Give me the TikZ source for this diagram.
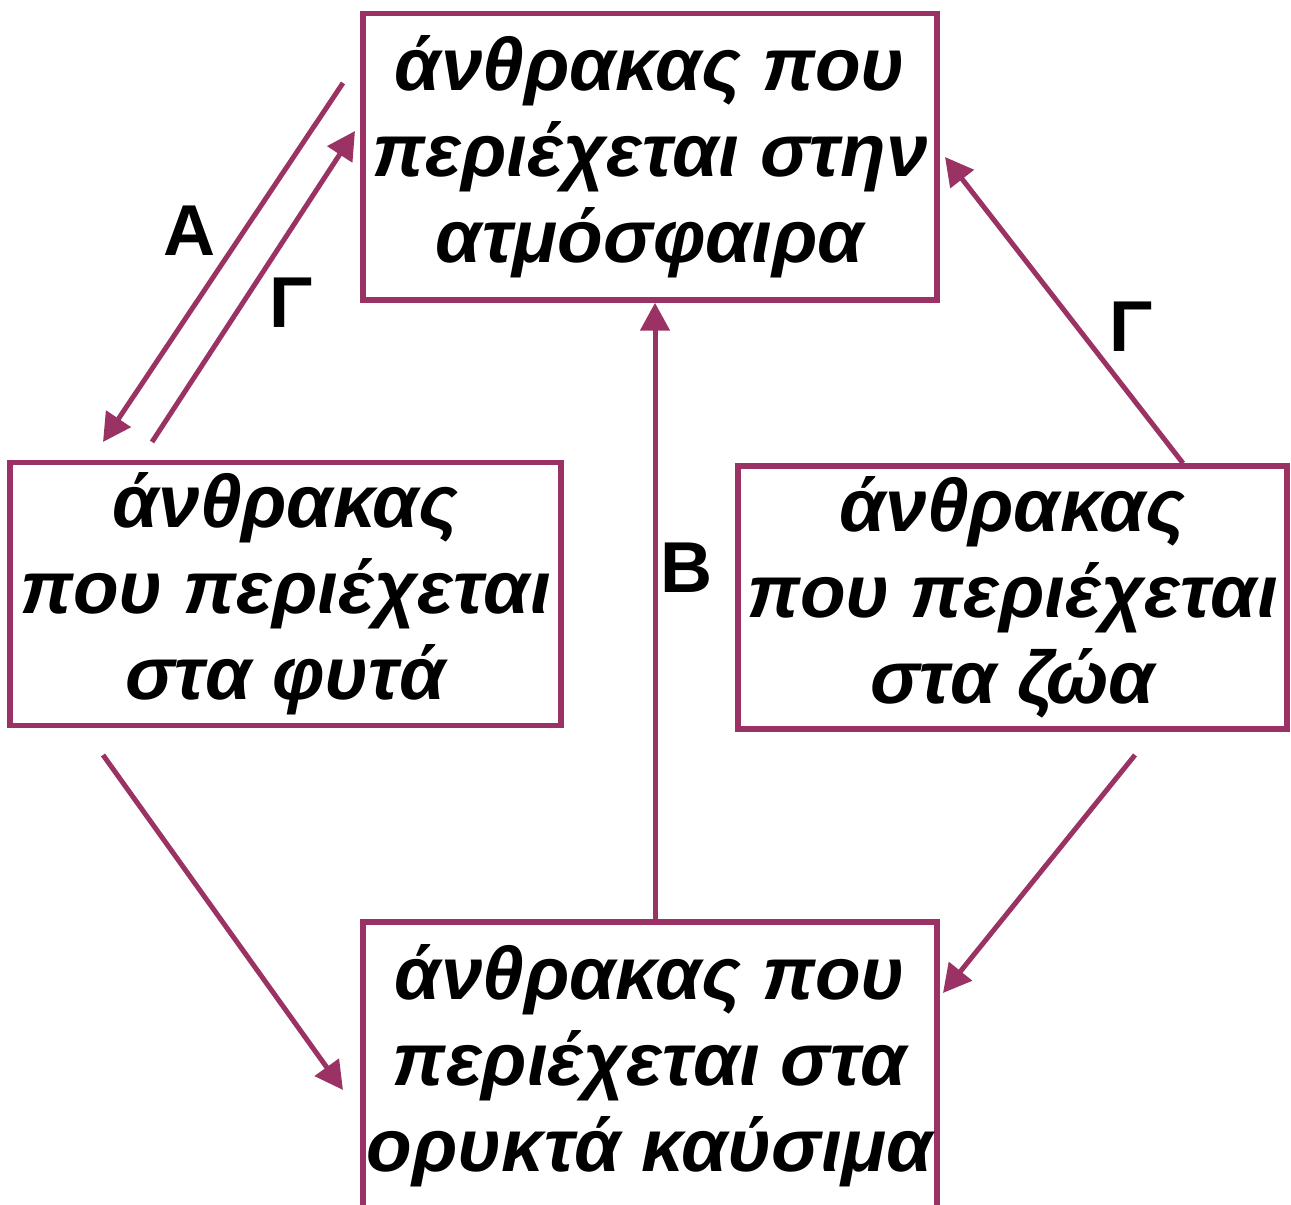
\documentclass[tikz,border=0pt]{standalone}
\usepackage{fontspec}
\setmainfont{Liberation Sans}
\usetikzlibrary{arrows.meta,positioning}
\definecolor{plum}{RGB}{155,50,100}

\begin{document}
\begin{tikzpicture}[>={Triangle[length=0.56cm,width=0.58cm]}, line join=miter,
  box/.style={draw=plum, line width=0.11cm, align=center, inner sep=0pt,
    font=\fontsize{42.5}{49}\selectfont\bfseries\itshape},
  lbl/.style={font=\fontsize{41}{49}\selectfont\bfseries},
  flow/.style={->, draw=plum, line width=0.1cm}]
  \useasboundingbox (0,0) rectangle (25.82,24.10);

  % τα τέσσερα κουτιά
  \node[box, minimum width=11.48cm, minimum height=5.73cm] (atm) at (13.0,20.965)
    {άνθρακας που\\περιέχεται στην\\ατμόσφαιρα};
  \node[box, minimum width=11.02cm, minimum height=5.26cm] (fyta) at (5.71,12.22)
    {άνθρακας\\που περιέχεται\\στα φυτά};
  \node[box, minimum width=10.98cm, minimum height=5.26cm] (zoa) at (20.25,12.15)
    {άνθρακας\\που περιέχεται\\στα ζώα};
  \node[box, minimum width=11.48cm, minimum height=5.73cm] (fos) at (13.0,2.79)
    {άνθρακας που\\περιέχεται στα\\ορυκτά καύσιμα};

  % άκρα των βελών
  \coordinate (aTop) at (6.86,22.44);
  \coordinate (aBot) at (2.06,15.26);
  \coordinate (gBot) at (3.04,15.26);
  \coordinate (gTop) at (7.10,21.48);
  \coordinate (bx) at (13.1,0);
  \coordinate (zx) at (23.66,0);
  \coordinate (zTop) at (18.90,20.96);
  \coordinate (zOut) at (22.70,9.0);
  \coordinate (zIn) at (18.86,4.24);
  \coordinate (fOut) at (2.06,9.0);
  \coordinate (fIn) at (6.86,2.30);

  % βέλη
  \draw[flow] (aTop) -- (aBot);
  \draw[flow] (gBot) -- (gTop);
  \draw[flow] (fos.north -| bx) -- (atm.south -| bx);
  \draw[flow] (zoa.north -| zx) -- (zTop);
  \draw[flow] (zOut) -- (zIn);
  \draw[flow] (fOut) -- (fIn);

  % ετικέτες
  \node[lbl] (labA) at (3.80,19.48) {Α};
  \node[lbl] (labG1) at (5.82,18.04) {Γ};
  \node[lbl] (labB) at (13.74,12.74) {Β};
  \node[lbl] (labG2) at (22.62,17.56) {Γ};
\end{tikzpicture}
\end{document}
